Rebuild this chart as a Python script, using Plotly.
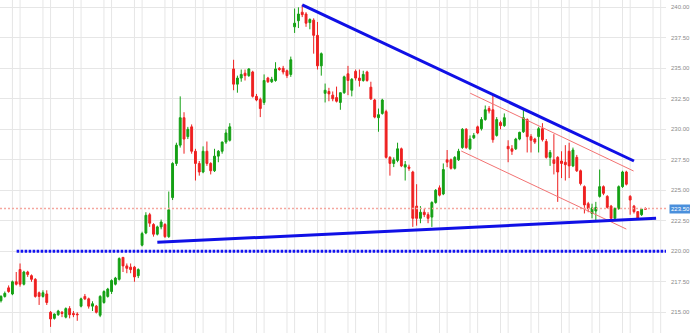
import plotly.graph_objects as go

# ---- candle data (index, open, high, low, close) ----
idx = list(range(170))
opens = [215.95,216.3,217.0,216.5,217.5,218.5,217.3,218.3,218.0,217.7,
         216.6,216.3,216.5,215.0,214.5,214.8,215.0,214.6,215.3,214.9,
         214.85,215.5,216.3,216.1,215.5,215.5,214.75,215.8,216.3,216.7,
         217.3,217.7,219.5,218.8,218.7,218.7,218.0,220.5,221.5,223.0,
         222.2,221.4,222.0,222.2,221.2,224.4,227.2,228.7,230.95,229.4,
         230.2,228.2,227.2,226.5,228.2,227.2,226.6,227.8,228.2,228.95,
         229.1,234.95,233.7,234.2,234.6,234.4,234.7,232.7,232.45,232.2,
         234.2,233.9,234.0,235.0,235.0,234.8,234.5,238.4,238.9,239.6,
         239.45,238.75,238.95,237.7,235.2,232.95,233.1,232.8,232.6,232.2,
         233.0,234.55,233.2,234.75,234.2,234.0,234.7,233.45,232.4,230.95,
         231.3,231.45,227.7,227.2,227.45,228.4,226.9,226.9,226.5,223.7,
         222.7,223.2,223.0,222.8,224.0,225.2,224.7,227.5,227.5,226.8,
         227.5,228.5,230.0,228.4,229.3,230.2,230.05,230.8,231.7,231.6,
         229.5,230.55,230.3,228.6,228.4,228.4,229.2,229.8,230.8,229.4,
         229.2,229.4,230.05,229.0,227.7,227.5,227.7,227.4,227.3,228.2,
         227.0,227.7,226.6,225.3,223.9,223.1,223.3,224.5,225.3,224.5,
         223.7,222.7,223.5,225.3,226.5,224.5,223.7,223.25,223.0,223.5]
highs = [216.4,216.7,217.2,217.6,218.3,219.0,218.4,218.4,218.1,217.8,
         216.7,216.8,216.8,215.1,214.9,215.2,215.1,215.4,215.5,215.1,
         215.0,216.2,216.5,216.2,215.9,215.6,216.4,216.8,217.0,217.7,
         217.9,219.5,219.5,219.0,219.0,218.8,218.6,221.6,223.2,223.15,
         222.3,222.1,222.6,222.3,224.9,227.3,228.9,232.7,231.4,230.2,
         230.4,228.4,227.4,228.6,229.0,227.3,228.4,228.3,229.0,230.0,
         230.5,235.7,234.4,234.9,234.9,235.0,234.8,232.9,232.6,234.5,
         234.3,234.3,235.5,235.1,235.2,234.9,235.96,239.9,240.0,240.2,
         239.6,239.1,239.1,238.8,236.3,233.75,233.4,233.1,233.5,233.0,
         234.4,235.2,234.2,234.9,234.9,234.8,234.8,233.9,232.5,231.7,
         232.5,231.6,227.8,227.7,228.9,228.5,227.4,227.1,226.6,225.5,
         223.7,223.5,223.2,224.1,225.1,225.4,227.2,228.3,227.6,227.8,
         228.4,230.1,230.1,229.5,229.7,230.3,231.0,231.95,231.9,232.9,
         231.0,230.7,231.3,229.1,228.7,229.3,229.8,231.7,230.9,229.6,
         229.3,230.2,230.5,229.2,228.3,229.6,227.8,228.2,228.7,228.9,
         228.5,227.9,226.7,225.4,224.05,223.9,224.05,226.7,225.4,224.6,
         223.8,223.6,225.4,226.6,226.6,224.6,223.8,223.3,223.5,223.6]
lows = [215.8,216.2,216.6,216.4,217.2,217.1,217.2,217.9,217.5,216.2,
        215.6,216.2,215.6,213.8,214.4,214.7,214.6,214.5,214.5,214.6,
        214.3,215.4,216.0,215.3,215.1,214.9,214.6,215.7,216.2,216.5,
        217.2,217.6,218.3,218.2,218.2,217.5,217.8,220.4,221.4,222.0,
        221.2,221.3,221.8,221.1,221.1,224.2,227.0,228.5,228.0,229.2,
        228.0,225.8,226.2,226.4,227.0,226.3,226.5,227.3,228.0,228.8,
        229.0,233.2,233.0,233.9,234.0,234.3,232.6,232.3,231.0,232.0,
        233.8,233.8,233.9,234.8,234.5,234.2,234.3,237.9,238.3,239.2,
        238.4,238.2,236.2,234.9,234.4,232.2,232.3,232.3,232.2,231.6,
        232.9,232.8,232.7,234.0,233.5,233.9,233.9,232.4,230.9,229.8,
        231.2,227.6,226.2,226.9,227.3,226.9,225.8,226.6,222.0,222.1,
        222.3,222.8,222.3,222.0,223.9,224.5,224.6,226.9,226.7,226.7,
        227.4,228.4,228.4,228.3,229.2,229.6,229.9,230.7,231.3,228.9,
        229.4,230.0,230.2,227.3,227.9,228.3,229.1,229.7,228.1,228.1,
        228.8,228.1,229.0,227.6,227.0,226.3,224.05,226.0,225.8,226.0,
        226.9,226.5,225.4,223.1,223.2,222.7,222.4,224.4,224.6,223.5,
        222.6,222.6,223.4,225.2,225.4,223.0,223.1,222.6,222.9,223.4]
closes = [216.3,216.55,216.7,217.5,217.3,217.3,218.3,218.1,217.7,216.3,
          216.3,216.6,215.8,214.45,214.85,215.1,214.9,215.3,214.8,214.8,
          214.8,216.1,216.1,215.5,215.7,215.0,216.3,216.7,216.9,217.6,
          217.8,219.4,218.8,218.6,218.5,217.9,218.5,221.45,222.95,222.3,
          221.4,222.0,222.4,221.2,223.4,227.2,228.7,230.95,229.2,230.0,
          228.2,227.2,226.5,228.2,227.2,226.6,227.8,228.2,228.95,229.7,
          230.2,233.7,234.2,234.5,234.4,234.95,232.7,232.4,231.7,234.0,
          233.9,234.1,234.95,234.9,234.7,234.4,235.7,238.7,239.45,239.4,
          238.7,239.0,237.7,235.2,236.2,233.2,232.9,232.5,232.3,233.0,
          234.3,234.0,234.1,234.2,234.0,234.5,234.0,232.5,231.0,231.2,
          232.4,227.7,227.2,227.5,228.4,227.0,227.1,226.8,222.7,222.7,
          223.2,223.0,222.7,224.0,225.0,224.6,226.7,227.3,226.8,227.7,
          228.2,230.0,228.5,229.2,229.5,229.7,230.8,231.6,231.5,229.15,
          230.8,230.3,230.95,228.4,228.2,229.2,229.75,230.95,229.4,229.1,
          228.95,230.05,229.15,227.7,228.1,227.2,226.5,227.2,227.1,227.0,
          228.3,226.6,225.55,223.8,223.5,223.55,223.6,225.3,224.75,223.6,
          222.7,223.5,225.3,226.5,225.5,224.2,223.25,222.7,223.45,223.45]

# ---- drawn lines (x in candle index, y in price) ----
resist_x = [79.0, 166.0]
resist_y = [240.2, 227.4]
support_x = [41.0, 171.8]
support_y = [220.73, 222.70]
chan_up_x = [123.05, 165.9]
chan_up_y = [232.96, 226.58]
chan_lo_x = [120.7, 164.0]
chan_lo_y = [228.22, 221.82]
level_x = [4.1, 174.4]
level_y = [220.0, 220.0]
last_x = [-0.26, 174.4]
last_y = [223.5, 223.5]
last_label = "223.50"

y_ticks = [215.0, 217.5, 220.0, 222.5, 225.0, 227.5, 230.0, 232.5, 235.0, 237.5, 240.0]
v_grid = [3 + 8 * k for k in range(22)] + [5 + 8 * k for k in range(22)]

fig = go.Figure()

# vertical grid pairs
for gx in v_grid:
    fig.add_shape(type="line", xref="x", yref="paper", x0=gx, x1=gx, y0=0, y1=1,
                  line=dict(color="#e6e6e6", width=1), layer="below")

fig.add_trace(go.Scatter(x=last_x, y=last_y, mode="lines",
                         line=dict(color="#f5a79f", width=1.5, dash="2px,2px"),
                         hoverinfo="skip"))
fig.add_trace(go.Scatter(x=level_x, y=level_y, mode="lines",
                         line=dict(color="#1212f0", width=3, dash="2.6px,1.4px"),
                         hoverinfo="skip"))

fig.add_trace(go.Candlestick(
    x=idx, open=opens, high=highs, low=lows, close=closes,
    increasing=dict(line=dict(color="#14a014", width=1), fillcolor="#14a014"),
    decreasing=dict(line=dict(color="#ee2020", width=1), fillcolor="#ee2020"),
    whiskerwidth=0,
))

for xs, ys in [(chan_up_x, chan_up_y), (chan_lo_x, chan_lo_y)]:
    fig.add_trace(go.Scatter(x=xs, y=ys, mode="lines",
                             line=dict(color="#f27272", width=1), hoverinfo="skip"))
for xs, ys in [(resist_x, resist_y), (support_x, support_y)]:
    fig.add_trace(go.Scatter(x=xs, y=ys, mode="lines",
                             line=dict(color="#1010e6", width=3), hoverinfo="skip"))

fig.add_annotation(xref="paper", x=1, y=last_y[0], yref="y", text=last_label,
                   showarrow=False, xanchor="left", xshift=3,
                   font=dict(family="Liberation Sans, Arial", size=6, color="#ffffff"),
                   bgcolor="#4a8fdc", borderpad=1)

fig.update_layout(
    width=690, height=333,
    margin=dict(l=0, r=22, t=0, b=0),
    paper_bgcolor="white", plot_bgcolor="white",
    showlegend=False,
    xaxis=dict(range=[-0.26, 174.4], showgrid=False, showticklabels=False,
               zeroline=False, rangeslider=dict(visible=False), fixedrange=True),
    yaxis=dict(range=[213.3, 240.6], side="right", tickvals=y_ticks,
               ticktext=[f"{v:.2f}" for v in y_ticks],
               showgrid=True, gridcolor="#e6e6e6", gridwidth=1, zeroline=False,
               tickfont=dict(family="Liberation Sans, Arial", size=6, color="#8a8a8a"),
               ticks="", ticklabelstandoff=4),
)

fig.write_html("out.html")
